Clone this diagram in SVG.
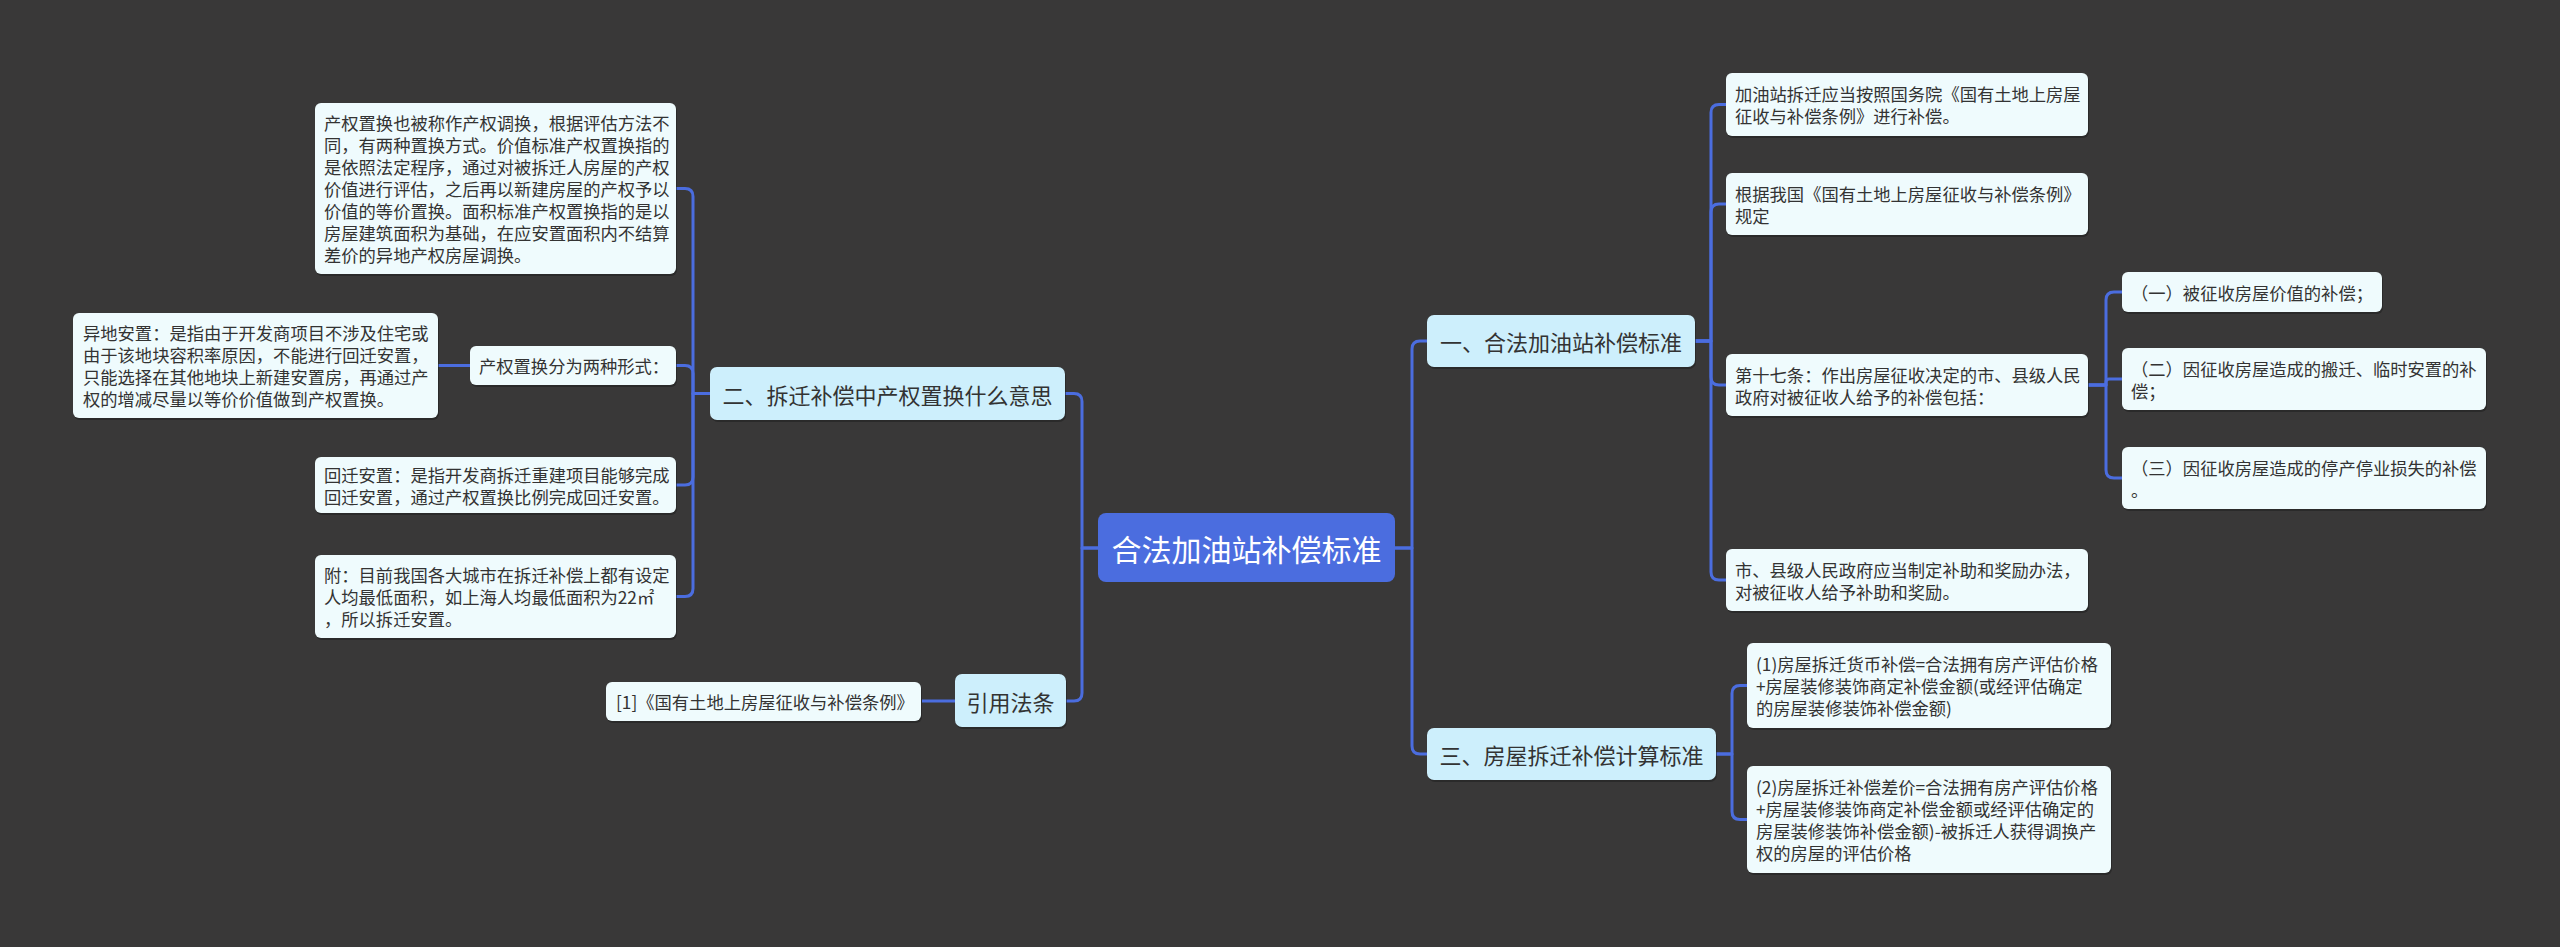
<svg xmlns="http://www.w3.org/2000/svg" width="2560" height="947" viewBox="0 0 2560 947">
<defs>
<style>
.bg{fill:#393838}
.leaf{fill:#effbfd}
.br{fill:#cdeffc}
.root{fill:#4b6ddf}
.sh{fill:#1f1f1f;opacity:.55}
.t{font-family:"Noto Sans CJK SC","Noto Sans",sans-serif;font-size:17.3px;fill:#333;dominant-baseline:central}
.bt{font-family:"Noto Sans CJK SC","Noto Sans",sans-serif;font-size:22px;fill:#333;dominant-baseline:central;text-anchor:middle}
.rt{font-family:"Noto Sans CJK SC","Noto Sans",sans-serif;font-size:30px;fill:#fff;dominant-baseline:central;text-anchor:middle}
.c{fill:none;stroke:#4b6ddf;stroke-width:3;stroke-linejoin:round}
</style>
</defs>
<rect class="bg" x="0" y="0" width="2560" height="947"/>
<g id="connectors">
<path class="c" d="M1098,548 H1082 V401.5 Q1082,393.5 1074,393.5 H1065"/>
<path class="c" d="M1098,548 H1082 V693 Q1082,701 1074,701 H1066"/>
<path class="c" d="M1395,548 H1412 V349 Q1412,341 1420,341 H1427"/>
<path class="c" d="M1395,548 H1412 V746 Q1412,754 1420,754 H1427"/>
<path class="c" d="M1695,341 H1711 V112.5 Q1711,104.5 1719,104.5 H1726"/>
<path class="c" d="M1695,341 H1711 V212 Q1711,204 1719,204 H1726"/>
<path class="c" d="M1695,341 H1711 V377 Q1711,385 1719,385 H1726"/>
<path class="c" d="M1695,341 H1711 V572 Q1711,580 1719,580 H1726"/>
<path class="c" d="M1716,754 H1732 V693.5 Q1732,685.5 1740,685.5 H1747"/>
<path class="c" d="M1716,754 H1732 V811.5 Q1732,819.5 1740,819.5 H1747"/>
<path class="c" d="M2088,385 H2106 V300 Q2106,292 2114,292 H2122"/>
<path class="c" d="M2088,385 H2106 V382 Q2106,379 2109,379 H2122"/>
<path class="c" d="M2088,385 H2106 V470 Q2106,478 2114,478 H2122"/>
<path class="c" d="M710,393.5 H693 V196.5 Q693,188.5 685,188.5 H676"/>
<path class="c" d="M710,393.5 H693 V373.5 Q693,365.5 685,365.5 H676"/>
<path class="c" d="M710,393.5 H693 V477 Q693,485 685,485 H676"/>
<path class="c" d="M710,393.5 H693 V588.5 Q693,596.5 685,596.5 H676"/>
<path class="c" d="M470,365.5 H438"/>
<path class="c" d="M955,701 H922"/>
</g>
<g id="root">
<rect class="root" x="1098" y="513" width="297" height="69" rx="8"/>
<text class="rt" x="1246.5" y="548">合法加油站补偿标准</text>
</g>
<g id="b1">
<rect class="sh" x="1428" y="317" width="268" height="52" rx="7"/>
<rect class="br" x="1427" y="315" width="268" height="52" rx="7"/>
<text class="bt" x="1561" y="341">一、合法加油站补偿标准</text>
</g>
<g id="b2">
<rect class="sh" x="711" y="369" width="355" height="53" rx="7"/>
<rect class="br" x="710" y="367" width="355" height="53" rx="7"/>
<text class="bt" x="887.5" y="393.5">二、拆迁补偿中产权置换什么意思</text>
</g>
<g id="b3">
<rect class="sh" x="1428" y="730" width="289" height="52" rx="7"/>
<rect class="br" x="1427" y="728" width="289" height="52" rx="7"/>
<text class="bt" x="1571.5" y="754">三、房屋拆迁补偿计算标准</text>
</g>
<g id="b4">
<rect class="sh" x="956" y="676" width="111" height="53" rx="7"/>
<rect class="br" x="955" y="674" width="111" height="53" rx="7"/>
<text class="bt" x="1010.5" y="701">引用法条</text>
</g>
<g id="nA">
<rect class="sh" x="316" y="105" width="361" height="171" rx="6"/>
<rect class="leaf" x="315" y="103" width="361" height="171" rx="6"/>
<text class="t" x="324" y="122.5">产权置换也被称作产权调换，根据评估方法不</text>
<text class="t" x="324" y="144.5">同，有两种置换方式。价值标准产权置换指的</text>
<text class="t" x="324" y="166.5">是依照法定程序，通过对被拆迁人房屋的产权</text>
<text class="t" x="324" y="188.5">价值进行评估，之后再以新建房屋的产权予以</text>
<text class="t" x="324" y="210.5">价值的等价置换。面积标准产权置换指的是以</text>
<text class="t" x="324" y="232.5">房屋建筑面积为基础，在应安置面积内不结算</text>
<text class="t" x="324" y="254.5">差价的异地产权房屋调换。</text>
</g>
<g id="nB">
<rect class="sh" x="74" y="315" width="365" height="105" rx="6"/>
<rect class="leaf" x="73" y="313" width="365" height="105" rx="6"/>
<text class="t" x="83" y="332.5">异地安置：是指由于开发商项目不涉及住宅或</text>
<text class="t" x="83" y="354.5">由于该地块容积率原因，不能进行回迁安置，</text>
<text class="t" x="83" y="376.5">只能选择在其他地块上新建安置房，再通过产</text>
<text class="t" x="83" y="398.5">权的增减尽量以等价价值做到产权置换。</text>
</g>
<g id="nC">
<rect class="sh" x="471" y="348" width="206" height="39" rx="6"/>
<rect class="leaf" x="470" y="346" width="206" height="39" rx="6"/>
<text class="t" x="479" y="365.5">产权置换分为两种形式：</text>
</g>
<g id="nD">
<rect class="sh" x="316" y="459" width="361" height="56" rx="6"/>
<rect class="leaf" x="315" y="457" width="361" height="56" rx="6"/>
<text class="t" x="324" y="474">回迁安置：是指开发商拆迁重建项目能够完成</text>
<text class="t" x="324" y="496">回迁安置，通过产权置换比例完成回迁安置。</text>
</g>
<g id="nE">
<rect class="sh" x="316" y="557" width="361" height="83" rx="6"/>
<rect class="leaf" x="315" y="555" width="361" height="83" rx="6"/>
<text class="t" x="324" y="574.5">附：目前我国各大城市在拆迁补偿上都有设定</text>
<text class="t" x="324" y="596.5">人均最低面积，如上海人均最低面积为22㎡</text>
<text class="t" x="324" y="618.5">，所以拆迁安置。</text>
</g>
<g id="nF">
<rect class="sh" x="607" y="684" width="315" height="39" rx="6"/>
<rect class="leaf" x="606" y="682" width="315" height="39" rx="6"/>
<text class="t" x="616" y="701.5">[1]《国有土地上房屋征收与补偿条例》</text>
</g>
<g id="nR1">
<rect class="sh" x="1727" y="75" width="362" height="63" rx="6"/>
<rect class="leaf" x="1726" y="73" width="362" height="63" rx="6"/>
<text class="t" x="1735" y="93.5">加油站拆迁应当按照国务院《国有土地上房屋</text>
<text class="t" x="1735" y="115.5">征收与补偿条例》进行补偿。</text>
</g>
<g id="nR2">
<rect class="sh" x="1727" y="175" width="362" height="62" rx="6"/>
<rect class="leaf" x="1726" y="173" width="362" height="62" rx="6"/>
<text class="t" x="1735" y="193">根据我国《国有土地上房屋征收与补偿条例》</text>
<text class="t" x="1735" y="215">规定</text>
</g>
<g id="nR3">
<rect class="sh" x="1727" y="356" width="362" height="62" rx="6"/>
<rect class="leaf" x="1726" y="354" width="362" height="62" rx="6"/>
<text class="t" x="1735" y="374">第十七条：作出房屋征收决定的市、县级人民</text>
<text class="t" x="1735" y="396">政府对被征收人给予的补偿包括：</text>
</g>
<g id="nR3a">
<rect class="sh" x="2123" y="274" width="260" height="40" rx="6"/>
<rect class="leaf" x="2122" y="272" width="260" height="40" rx="6"/>
<text class="t" x="2131" y="292">（一）被征收房屋价值的补偿；</text>
</g>
<g id="nR3b">
<rect class="sh" x="2123" y="350" width="364" height="62" rx="6"/>
<rect class="leaf" x="2122" y="348" width="364" height="62" rx="6"/>
<text class="t" x="2131" y="368">（二）因征收房屋造成的搬迁、临时安置的补</text>
<text class="t" x="2131" y="390">偿；</text>
</g>
<g id="nR3c">
<rect class="sh" x="2123" y="449" width="364" height="62" rx="6"/>
<rect class="leaf" x="2122" y="447" width="364" height="62" rx="6"/>
<text class="t" x="2131" y="467">（三）因征收房屋造成的停产停业损失的补偿</text>
<text class="t" x="2131" y="489">。</text>
</g>
<g id="nR4">
<rect class="sh" x="1727" y="551" width="362" height="62" rx="6"/>
<rect class="leaf" x="1726" y="549" width="362" height="62" rx="6"/>
<text class="t" x="1735" y="569">市、县级人民政府应当制定补助和奖励办法，</text>
<text class="t" x="1735" y="591">对被征收人给予补助和奖励。</text>
</g>
<g id="nR5">
<rect class="sh" x="1748" y="645" width="364" height="85" rx="6"/>
<rect class="leaf" x="1747" y="643" width="364" height="85" rx="6"/>
<text class="t" x="1756" y="663.5">(1)房屋拆迁货币补偿=合法拥有房产评估价格</text>
<text class="t" x="1756" y="685.5">+房屋装修装饰商定补偿金额(或经评估确定</text>
<text class="t" x="1756" y="707.5">的房屋装修装饰补偿金额)</text>
</g>
<g id="nR6">
<rect class="sh" x="1748" y="768" width="364" height="107" rx="6"/>
<rect class="leaf" x="1747" y="766" width="364" height="107" rx="6"/>
<text class="t" x="1756" y="786.5">(2)房屋拆迁补偿差价=合法拥有房产评估价格</text>
<text class="t" x="1756" y="808.5">+房屋装修装饰商定补偿金额或经评估确定的</text>
<text class="t" x="1756" y="830.5">房屋装修装饰补偿金额)-被拆迁人获得调换产</text>
<text class="t" x="1756" y="852.5">权的房屋的评估价格</text>
</g>
</svg>
